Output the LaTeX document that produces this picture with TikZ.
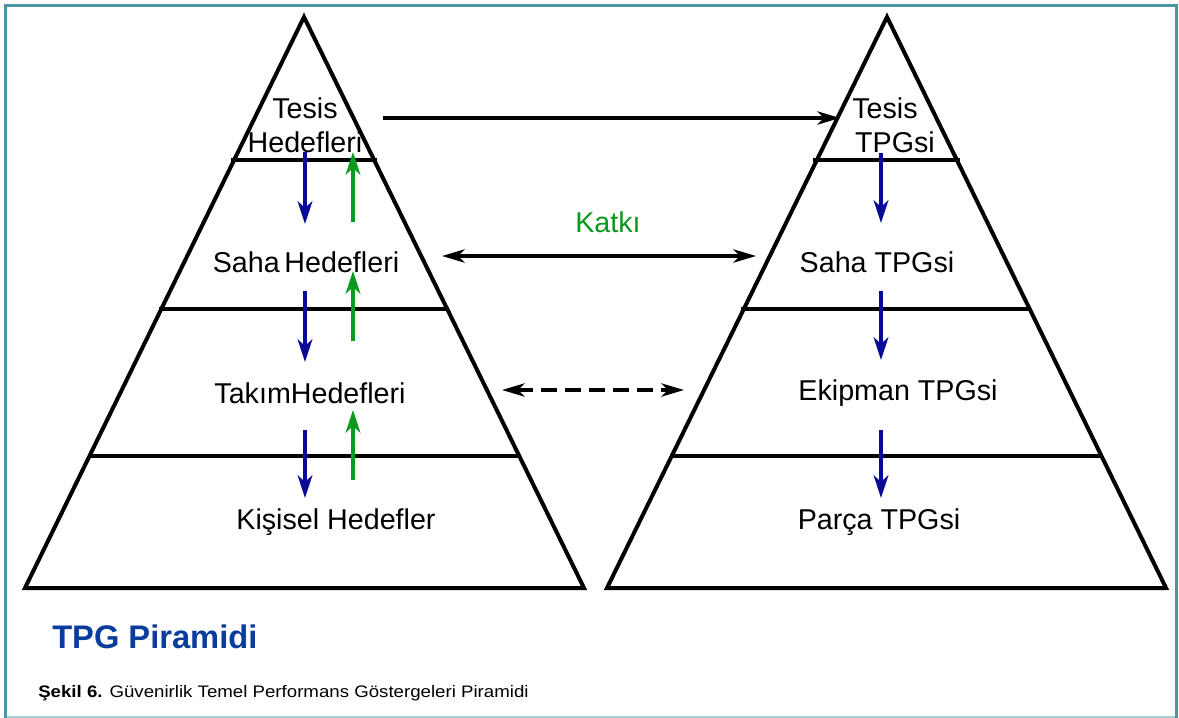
\documentclass[tikz,border=0pt]{standalone}
\usepackage{fontspec}
\setmainfont{Liberation Sans}
\newfontfamily\capfont[FakeStretch=1.12]{Liberation Sans}
\usetikzlibrary{arrows.meta}
\definecolor{frameteal}{HTML}{4A97A3}
\definecolor{framelight}{HTML}{A9CFD6}
\definecolor{arrowblue}{HTML}{0A0A96}
\definecolor{arrowgreen}{HTML}{0A9A1E}
\definecolor{titleblue}{HTML}{0A3C9C}
\begin{document}
\begin{tikzpicture}[x=0.75pt,y=-0.75pt,
  pyr/.style={line width=3pt, line join=miter},
  tier/.style={line width=3pt},
  lbl/.style={font=\fontsize{21.5}{23}\selectfont, inner sep=0pt, align=center},
  downarr/.style={arrowblue, line width=3pt, -{Stealth[length=17pt,width=11pt,inset=5pt]}},
  uparr/.style={arrowgreen, line width=3pt, -{Stealth[length=17pt,width=11pt,inset=5pt]}},
  blackone/.style={black, line width=2.4pt, -{Stealth[length=17pt,width=10pt,inset=5pt]}},
  blacktwo/.style={black, line width=2.4pt, {Stealth[length=17pt,width=10pt,inset=5pt]}-{Stealth[length=17pt,width=10pt,inset=5pt]}}]
\useasboundingbox (0,0) rectangle (1179,718);
\fill[white] (0,0) rectangle (1179,718);
% frame
\draw[framelight, line width=1.5pt] (5.5,716.5) -- (1176.5,716.5);
\draw[frameteal, line width=2.7pt] (5.5,718) -- (5.5,5.5) -- (1176.5,5.5) -- (1176.5,718);
% left pyramid
\draw[pyr] (25,588) -- (304,17) -- (584,588) -- cycle;
\draw[tier] (231,160) -- (377,160);
\draw[tier] (159,309) -- (449,309);
\draw[tier] (88,456) -- (520,456);
% right pyramid
\draw[pyr] (607,588) -- (887,17) -- (1166,588) -- cycle;
\draw[tier] (813,160) -- (960,160);
\draw[tier] (741,309) -- (1031,309);
\draw[tier] (670,456) -- (1102,456);
% left labels
\node[lbl] (lt1) at (305,108) {Tesis};
\node[lbl] (lt2) at (305,142) {Hedefleri};
\node[lbl] (ls) at (306,262) {Saha\,Hedefleri};
\node[lbl] (lk) at (310,393) {TakımHedefleri};
\node[lbl] (lp) at (336,522) {Kişisel Hedefler};
% right labels
\node[lbl] (rt1) at (885,108) {Tesis};
\node[lbl] (rt2) at (895,142) {TPGsi};
\node[lbl] (rs) at (877,262) {Saha TPGsi};
\node[lbl] (re) at (898,393) {Ekipman TPGsi};
\node[lbl] (rp) at (879,522) {Parça TPGsi};
\node[lbl, text=arrowgreen] (katki) at (608,222) {Katkı};
% vertical arrows
\coordinate (b1s) at (305,152); \coordinate (b1e) at (305,224);
\coordinate (b2s) at (305,291); \coordinate (b2e) at (305,362);
\coordinate (b3s) at (305,430); \coordinate (b3e) at (305,498);
\coordinate (g1s) at (353,222); \coordinate (g1e) at (353,152);
\coordinate (g2s) at (353,341); \coordinate (g2e) at (353,271);
\coordinate (g3s) at (353,480); \coordinate (g3e) at (353,410);
\coordinate (c1s) at (881,153); \coordinate (c1e) at (881,223);
\coordinate (c2s) at (881,291); \coordinate (c2e) at (881,360);
\coordinate (c3s) at (881,430); \coordinate (c3e) at (881,498);
\draw[downarr] (b1s) -- (b1e);
\draw[downarr] (b2s) -- (b2e);
\draw[downarr] (b3s) -- (b3e);
\draw[uparr] (g1s) -- (g1e);
\draw[uparr] (g2s) -- (g2e);
\draw[uparr] (g3s) -- (g3e);
\draw[downarr] (c1s) -- (c1e);
\draw[downarr] (c2s) -- (c2e);
\draw[downarr] (c3s) -- (c3e);
% horizontal arrows
\coordinate (h1s) at (383,118); \coordinate (h1e) at (840,118);
\coordinate (h2s) at (442,256); \coordinate (h2e) at (756,256);
\coordinate (h3s) at (502,390); \coordinate (h3e) at (684,390);
\draw[blackone] (h1s) -- (h1e);
\draw[blacktwo] (h2s) -- (h2e);
\draw[blacktwo, dash pattern=on 12pt off 6pt] (h3s) -- (h3e);
% titles
\node[anchor=west, inner sep=0pt, text=titleblue, font=\fontsize{24.5}{27}\selectfont\bfseries] (title) at (52,637) {TPG Piramidi};
\node[anchor=west, inner sep=0pt, font=\capfont\fontsize{12.5}{14}\selectfont] (cap) at (38,693) {\textbf{Şekil 6.} Güvenirlik Temel Performans Göstergeleri Piramidi};
\end{tikzpicture}
\end{document}
